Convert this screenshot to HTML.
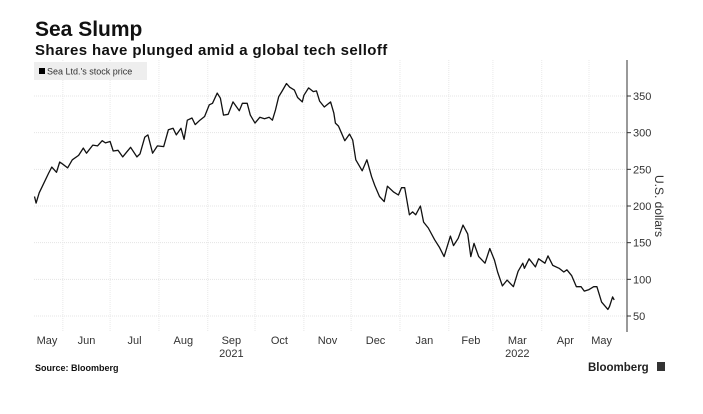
<!DOCTYPE html>
<html><head><meta charset="utf-8"><style>
body{margin:0;background:#fff;width:703px;height:409px;overflow:hidden;font-family:"Liberation Sans",sans-serif}
</style></head><body>
<svg width="703" height="409" viewBox="0 0 703 409">
<text x="35" y="36" font-size="21" font-weight="bold" fill="#111">Sea Slump</text>
<text x="35" y="55" font-size="15" font-weight="bold" fill="#111" letter-spacing="0.4">Shares have plunged amid a global tech selloff</text>
<g id="grid"></g>
<rect x="34" y="62" width="113" height="18" fill="#eeeeee"/>
<rect x="39" y="68" width="6" height="6" fill="#000"/>
<text x="47" y="74.5" font-size="9" fill="#333">Sea Ltd.'s stock price</text>
<line x1="627" y1="60" x2="627" y2="332" stroke="#333" stroke-width="1"/>
<g id="yt"></g>
<g id="xt"></g>
<text transform="translate(655,206) rotate(90)" text-anchor="middle" font-size="12" fill="#333">U.S. dollars</text>
<path id="line" fill="none" stroke="#111" stroke-width="1.3" stroke-linejoin="round"/>
<text x="35" y="371" font-size="9" font-weight="bold" fill="#111">Source: Bloomberg</text>
<text x="588" y="371" font-size="11.5" font-weight="bold" fill="#222">Bloomberg</text>
<rect x="657" y="362" width="8" height="9" fill="#333"/>
</svg>
<script>
const days=[13,14,16,18,22,24,27,29,31,34,37,41,44,46,50,53,56,58,61,63,66,69,74,78,80,83,85,88,91,95,98,101,103,106,108,110,113,115,118,121,124,126,129,131,133,136,139,143,145,148,150,153,156,159,162,164,166,168,170,173,175,178,180,183,184,187,190,192,194,197,201,203,204,206,210,213,215,217,221,224,227,229,232,235,237,241,244,246,248,251,253,255,258,260,263,267,270,273,277,279,282,285,288,290,292,295,299,302,305,307,310,313,317,320,323,324,327,331,333,337,339,342,346,349,351,354,357,360,362,365,368,370,373,377,378,380,381];
const prices=[213,204,218,227,245,253,246,260,257,252,263,269,279,272,283,282,289,286,288,275,276,267,280,267,271,294,297,272,282,281,304,306,297,306,291,317,320,311,317,322,338,340,354,347,324,325,342,330,340,340,324,313,321,319,321,317,331,349,356,367,362,358,348,342,351,361,356,357,343,335,342,327,313,309,289,298,290,263,248,263,240,228,213,206,227,219,215,225,225,188,192,188,200,178,170,154,144,131,159,146,156,174,162,131,149,131,122,142,126,110,91,99,90,111,122,115,128,117,128,122,132,119,115,110,113,105,90,90,84,86,90,90,69,59,63,76,72];
const yTicks=[50,100,150,200,250,300,350];
const monthLabels=["May","Jun","Jul","Aug","Sep","Oct","Nov","Dec","Jan","Feb","Mar","Apr","May"];
const monthStarts=[0,31,61,92,123,153,184,214,245,276,304,335,365];
const yearLabels=[{t:"2021",m:4},{t:"2022",m:10}];
const X=d=>14+d*575/365;
const Y=v=>96+(350-v)*220/300;
const NS="http://www.w3.org/2000/svg";
function mk(tag,attrs,parent,txt){const e=document.createElementNS(NS,tag);for(const k in attrs)e.setAttribute(k,attrs[k]);if(txt!==undefined)e.textContent=txt;parent.appendChild(e);return e;}
const grid=document.getElementById('grid'),yt=document.getElementById('yt'),xt=document.getElementById('xt');
yTicks.forEach(v=>{
  const l=mk('line',{x1:34,x2:627,y1:Y(v),y2:Y(v),stroke:'#e4e4e4','stroke-width':1,'stroke-dasharray':'1,1'},grid);
  
  
  const tk=mk('line',{x1:627,x2:631,y1:Y(v),y2:Y(v),stroke:'#333'},yt);
  
  
  const t=mk('text',{x:633,y:Y(v)+4,'font-size':11,fill:'#333'},yt,String(v));
  
  
});
monthStarts.forEach((d,i)=>{
  if(i>0){const l=mk('line',{x1:X(d),x2:X(d),y1:60,y2:332,stroke:'#e8e8e8','stroke-width':1,'stroke-dasharray':'1,1'},grid);
  
  }
  const end=i<12?monthStarts[i+1]:381;
  const pos=i===0?47:(X(d)+X(end))/2;
  const t=mk('text',{x:pos,y:344,'font-size':11,fill:'#333','text-anchor':'middle'},xt,monthLabels[i]);
  
  
});
yearLabels.forEach(o=>{
  const d=monthStarts[o.m],e=monthStarts[o.m+1];
  const t=mk('text',{x:(X(d)+X(e))/2,y:357,'font-size':11,fill:'#333','text-anchor':'middle'},xt,o.t);
  
  
});
document.getElementById('line').setAttribute('d',days.map((d,i)=>(i?'L':'M')+X(d).toFixed(1)+','+Y(prices[i]).toFixed(1)).join(''));
</script>
</body></html>
